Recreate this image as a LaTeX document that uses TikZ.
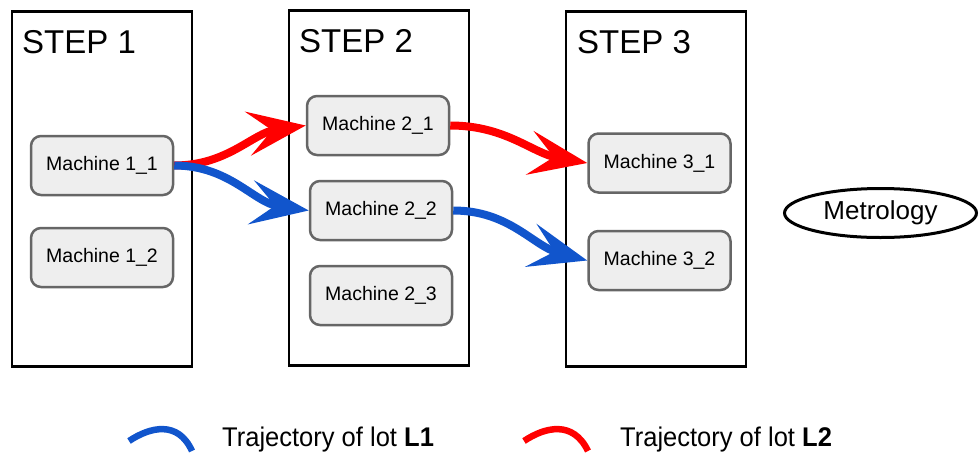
\documentclass[tikz,border=0pt]{standalone}
\usepackage{fontspec}
\setmainfont{Liberation Sans}
\usetikzlibrary{arrows.meta,shapes.geometric}
\definecolor{lotred}{HTML}{FF0000}
\definecolor{lotblue}{HTML}{1155CC}
\definecolor{machfill}{HTML}{EEEEEE}
\definecolor{machdraw}{HTML}{666666}
\tikzset{
  stepbox/.style={draw=black, line width=2.8pt, minimum width=180pt, minimum height=355pt, inner sep=0pt},
  steplabel/.style={anchor=base west, font=\fontsize{33}{38}\selectfont, inner sep=0pt},
  machine/.style={draw=machdraw, fill=machfill, line width=2.5pt, rounded corners=10pt,
    minimum width=142pt, minimum height=59pt, inner sep=0pt, font=\fontsize{19.5}{23}\selectfont},
  lot/.style={line width=8pt, -{Stealth[length=58pt, width=44pt, inset=24pt]}},
  legendarc/.style={line width=6.5pt},
  legendtext/.style={anchor=base west, inner sep=0pt, xscale=0.945, transform shape,
    font=\fontsize{27}{32}\selectfont},
}
\begin{document}
\begin{tikzpicture}[x=1pt, y=-1pt]
\useasboundingbox (0,0) rectangle (979,453);

% process steps
\node[stepbox] (s1) at (102,189) {};
\node[stepbox] (s2) at (379,188) {};
\node[stepbox] (s3) at (656,189) {};
\node[steplabel] (l1) at (22,53) {STEP 1};
\node[steplabel] (l2) at (299,52) {STEP 2};
\node[steplabel] (l3) at (577,53) {STEP 3};

% machines
\node[machine] (m11) at (102,165.5) {Machine 1\_1};
\node[machine] (m12) at (102,257.5) {Machine 1\_2};
\node[machine] (m21) at (378,125.5) {Machine 2\_1};
\node[machine] (m22) at (381,210.5) {Machine 2\_2};
\node[machine] (m23) at (381,295.5) {Machine 2\_3};
\node[machine] (m31) at (659.5,163) {Machine 3\_1};
\node[machine] (m32) at (659.5,260.5) {Machine 3\_2};

% metrology
\node[draw=black, line width=3pt, ellipse, minimum width=192pt, minimum height=49pt,
  font=\fontsize{26}{30}\selectfont] (met) at (880.5,213) {Metrology};

% lot trajectories
\draw[lot, lotred] (m11.east) to[out=0, in=188] (m21.west);
\draw[lot, lotblue] (m11.east) to[out=0, in=172] (m22.west);
\draw[lot, lotred] (m21.east) to[out=0, in=170] (m31.west);
\draw[lot, lotblue] (m22.east) to[out=0, in=165] (m32.west);

% legend
\coordinate (b0) at (129,441);
\coordinate (b1) at (192,451);
\coordinate (r0) at (524,441);
\coordinate (r1) at (588,451);
\draw[legendarc, lotblue] (b0) .. controls (150,427) and (178,420) .. (b1);
\draw[legendarc, lotred] (r0) .. controls (545,427) and (573,420) .. (r1);
\node[legendtext] (t1) at (222,446) {Trajectory of lot \textbf{L1}};
\node[legendtext] (t2) at (620,446) {Trajectory of lot \textbf{L2}};
\end{tikzpicture}
\end{document}
